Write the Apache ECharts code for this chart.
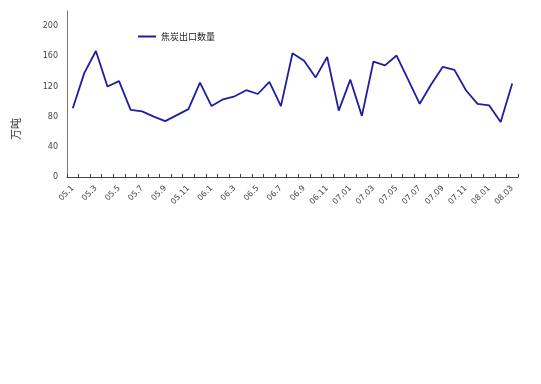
<!DOCTYPE html>
<html><head><meta charset="utf-8">
<script src="https://cdn.jsdelivr.net/npm/echarts@6/dist/echarts.min.js"></script>
<style>html,body{margin:0;padding:0;background:#fff}#c{width:541px;height:384px}</style>
</head><body><div id="c"></div>
<script>
const categories = [
 '05.1','05.2','05.3','05.4','05.5','05.6','05.7','05.8','05.9','05.10','05.11','05.12',
 '06.1','06.2','06.3','06.4','06.5','06.6','06.7','06.8','06.9','06.10','06.11','06.12',
 '07.01','07.02','07.03','07.04','07.05','07.06','07.07','07.08','07.09','07.10','07.11','07.12',
 '08.01','08.02','08.03'];
const cokeExports = [
 91,138,167,120,127,89,87,80,74,82,90,125,
 94,103,107,115,110,126,94,164,154,132,159,88,
 129,81,153,148,161,129,97,123,146,142,115,97,
 95,73,124];
const seriesName = '焦炭出口数量';
const yUnit = '万吨';

const chart = echarts.init(document.getElementById('c'));
chart.setOption({
  animation:false,
  backgroundColor:'#fff',
  textStyle:{fontFamily:'"Noto Sans CJK SC", "DejaVu Sans", sans-serif'},
  grid:{left:67,right:23,top:11,bottom:207},
  legend:{left:133,top:27,itemWidth:18,itemHeight:2,itemGap:4,icon:'rect',
    textStyle:{fontSize:9,color:'#222',fontFamily:'"Noto Sans CJK SC", sans-serif'},
    data:[{name:seriesName}]},
  graphic:[{type:'text',left:10,top:118,rotation:Math.PI/2,
    style:{text:yUnit,fontSize:11,fill:'#333',fontFamily:'"Noto Sans CJK SC", sans-serif'}}],
  xAxis:{type:'category',data:categories,boundaryGap:true,
    axisLine:{lineStyle:{color:'#444',width:1}},
    axisTick:{show:true,inside:true,length:3,interval:0,lineStyle:{color:'#444'}},
    axisLabel:{interval:1,rotate:45,fontSize:8,color:'#444',margin:10,fontFamily:'"DejaVu Sans", sans-serif'},
    splitLine:{show:false}},
  yAxis:{type:'value',min:0,max:220,interval:40,
    axisLine:{show:true,lineStyle:{color:'#777',width:1}},
    axisTick:{show:false},
    axisLabel:{fontSize:8,color:'#444',margin:9,fontFamily:'"DejaVu Sans", sans-serif',
      formatter:v=>v>200?'':String(v)},
    splitLine:{show:false}},
  series:[{name:seriesName,type:'line',data:cokeExports,symbol:'none',
    lineStyle:{color:'#1e1e9e',width:1.8},itemStyle:{color:'#1e1e9e'}}]
});
</script></body></html>
